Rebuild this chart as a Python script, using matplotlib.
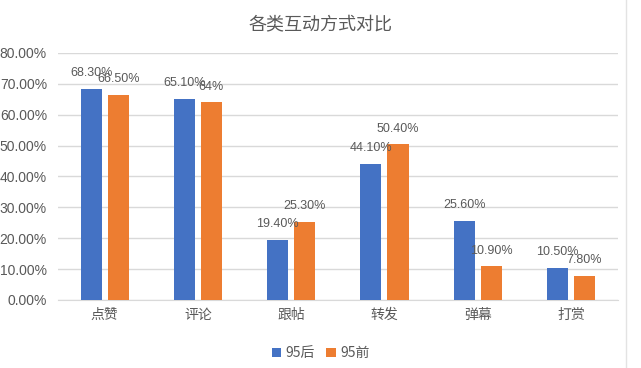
import matplotlib
matplotlib.use("Agg")
import matplotlib.pyplot as plt
from matplotlib.lines import Line2D
import numpy as np

categories = ["点赞", "评论", "跟帖", "转发", "弹幕", "打赏"]
series_names = ["95后", "95前"]
post95 = [68.3, 65.1, 19.4, 44.1, 25.6, 10.5]
pre95 = [66.5, 64.0, 25.3, 50.4, 10.9, 7.8]
post95_labels = ["68.30%", "65.10%", "19.40%", "44.10%", "25.60%", "10.50%"]
pre95_labels = ["66.50%", "64%", "25.30%", "50.40%", "10.90%", "7.80%"]
yticks = [0, 10, 20, 30, 40, 50, 60, 70, 80]
ytick_labels = ["0.00%", "10.00%", "20.00%", "30.00%", "40.00%", "50.00%", "60.00%", "70.00%", "80.00%"]

plt.rcParams['font.family'] = ['Noto Sans CJK SC', 'DejaVu Sans']
num_font = ['Liberation Sans Narrow', 'Liberation Sans', 'Noto Sans CJK SC']
grey = '#595959'

fig = plt.figure(figsize=(6.41, 3.68), dpi=100)
ax = fig.add_axes([0.0905, 0.185, 0.873, 0.671])

x = np.arange(len(categories))
w = 0.226
off = 0.145
b1 = ax.bar(x - off, post95, w, color='#4472C4', label=series_names[0], zorder=3)
b2 = ax.bar(x + off, pre95, w, color='#ED7D31', label=series_names[1], zorder=3)

for bars, labs in ((b1, post95_labels), (b2, pre95_labels)):
    for r, t in zip(bars, labs):
        ax.annotate(t, (r.get_x() + r.get_width() / 2, r.get_height()),
                    xytext=(0, 7), textcoords='offset points', ha='center', va='bottom',
                    fontsize=9, color=grey, family=num_font, zorder=4)

ax.set_xlim(-0.5, len(categories) - 0.5)
ax.set_ylim(0, 80)
ax.set_yticks(yticks)
ax.set_yticklabels(ytick_labels, family=num_font, fontsize=10, color=grey)
ax.set_xticks(x)
ax.set_xticklabels(categories, fontsize=10, color=grey)
ax.tick_params(axis='both', length=0, pad=6)
ax.tick_params(axis='y', pad=8)
ax.grid(axis='y', color='#D9D9D9', linewidth=1, zorder=0)
for s in ['top', 'right', 'left']:
    ax.spines[s].set_visible(False)
ax.spines['bottom'].set_color('#D9D9D9')

fig.suptitle("各类互动方式对比", x=0.5, y=0.955, fontsize=13, color=grey)

leg = fig.legend(handles=[b1, b2], labels=series_names, loc='center', bbox_to_anchor=(0.5, 0.04),
                 ncol=2, frameon=False, fontsize=10, handlelength=0.7, handleheight=0.7,
                 handletextpad=0.3, columnspacing=0.8)
for t in leg.get_texts():
    t.set_color(grey)

fig.add_artist(Line2D([626 / 641, 626 / 641], [0, 1], transform=fig.transFigure,
                      color='#E3E3E3', linewidth=1))

fig.savefig("out.png", dpi=100)
